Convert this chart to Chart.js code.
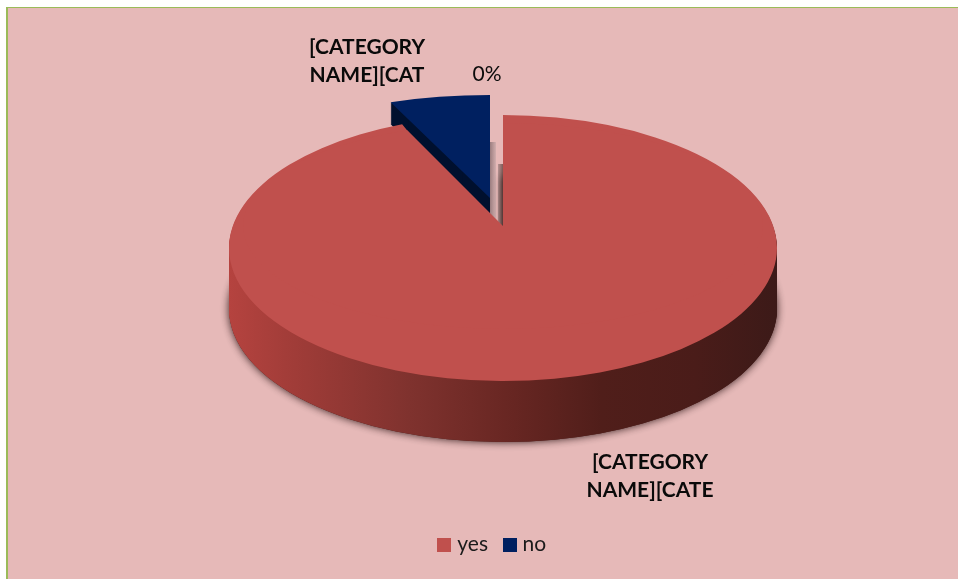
<!DOCTYPE html>
<html>
<head>
<meta charset="utf-8">
<title>yes / no</title>
<script src="https://cdn.jsdelivr.net/npm/chart.js@4/dist/chart.umd.min.js"></script>
<style>
  html, body { margin: 0; height: 100%; background: #fff; overflow: hidden; }
  #panel {
    position: absolute; left: 6px; top: 7px; right: 0; bottom: 0;
    background: #e6b9b8;
    border-left: 2px solid #9bbb59;
    border-top: 1px solid #9bbb59;
  }
  #pie { position: absolute; left: 30px; top: 0; }
</style>
</head>
<body>
<div id="panel"></div>
<canvas id="pie" width="928" height="579"></canvas>
<script>
const categories = ["yes", "no"];
const seriesValues = [94, 6];
const sliceColors = ["#c0504d", "#002060"];
const sideColor = "#00102e";

// canvas sits 30px in from the page so the legend centres under the pie
const canvasLeft = 30;

// ellipses for the projected discs, in page pixels
const yesDisc = { cx: 503, cy: 248, rx: 274, ry: 133 };
// the far half is foreshortened, so the slice tip sits above the ellipse centre
const yesTip = { cx: 503, cy: 226, rx: 260, ry: 103 };
const noDisc = { cx: 490, cy: 198, rx: 270, ry: 103 };
const yesDepth = 61;
const noDepth = 22;

const outsideLabels = [
  { lines: ["[CATEGORY", "NAME][CAT"], x: 367, y: 54, bold: true },
  { lines: ["0%"], x: 487, y: 81, bold: false },
  { lines: ["[CATEGORY", "NAME][CATE"], x: 650, y: 469, bold: true },
];

// run a draw with the arc's circle mapped onto an ellipse given in page pixels
function onDisc(ctx, arc, disc, dy, draw) {
  const r = arc.outerRadius;
  ctx.save();
  ctx.translate(disc.cx - canvasLeft, disc.cy + dy);
  ctx.scale(disc.rx / r, disc.ry / r);
  ctx.translate(-arc.x, -arc.y);
  draw();
  ctx.restore();
}

function paintArc(ctx, arc, fill) {
  const saved = arc.options;
  arc.options = Object.assign({}, saved, { backgroundColor: fill });
  arc.draw(ctx);
  arc.options = saved;
}

function sideGradient(ctx, arc) {
  const r = arc.outerRadius;
  const g = ctx.createLinearGradient(arc.x - r, 0, arc.x + r, 0);
  g.addColorStop(0, "#b5433f");
  g.addColorStop(0.12, "#a03c38");
  g.addColorStop(0.33, "#7f322e");
  g.addColorStop(0.52, "#672622");
  g.addColorStop(0.68, "#501e1a");
  g.addColorStop(0.85, "#4a1c19");
  g.addColorStop(1, "#3c1a18");
  return g;
}

// 14px square legend swatch; a point style lets the gap to the text stay tight
function swatch(color) {
  const c = document.createElement("canvas");
  c.width = 14;
  c.height = 14;
  const g = c.getContext("2d");
  g.fillStyle = color;
  g.fillRect(0, 0, 14, 14);
  return c;
}

const pie3d = {
  id: "pie3d",
  beforeDatasetsDraw(chart) {
    const ctx = chart.ctx;
    const [yesArc, noArc] = chart.getDatasetMeta(0).data;

    // navy slice first, its side wall sticks out behind the big slice
    for (let d = noDepth; d > 0; d--) {
      onDisc(ctx, noArc, noDisc, d, () => paintArc(ctx, noArc, sideColor));
    }
    onDisc(ctx, noArc, noDisc, 0, () => paintArc(ctx, noArc, sliceColors[1]));

    // inner walls showing through the gap between the slices
    const wall = (x, y, w, h, from, to) => {
      const g = ctx.createLinearGradient(x - canvasLeft, 0, x - canvasLeft + w, 0);
      g.addColorStop(0, from);
      g.addColorStop(1, to);
      ctx.fillStyle = g;
      ctx.fillRect(x - canvasLeft, y, w, h);
    };
    wall(490, 142, 6, 84, "#9b7d7f", "#d2aeae");
    wall(498, 164, 5, 62, "#b59392", "#7d5a56");

    // soft shadow under the disc, then the side wall stacked upward
    onDisc(ctx, yesArc, yesDisc, yesDepth, () => {
      ctx.shadowColor = "rgba(30, 10, 10, 0.9)";
      ctx.shadowBlur = 8;
      paintArc(ctx, yesArc, "#4a1c19");
    });
    onDisc(ctx, yesArc, yesDisc, 0, () => {
      const g = sideGradient(ctx, yesArc);
      for (let d = yesDepth; d > 0; d--) {
        ctx.save();
        ctx.translate(0, d * yesArc.outerRadius / yesDisc.ry);
        paintArc(ctx, yesArc, g);
        ctx.restore();
      }
    });

    onDisc(ctx, yesArc, yesDisc, 0, () => paintArc(ctx, yesArc, sliceColors[0]));
    onDisc(ctx, yesArc, yesTip, 0, () => paintArc(ctx, yesArc, sliceColors[0]));
    return false;
  },
  // afterDatasetsDraw is skipped once the dataset draw has been cancelled
  afterDraw(chart) {
    const ctx = chart.ctx;
    ctx.save();
    ctx.fillStyle = "#0a0a0a";
    ctx.textAlign = "center";
    ctx.textBaseline = "alphabetic";
    outsideLabels.forEach((l) => {
      ctx.font = (l.bold ? "bold " : "") + "21px Lato, sans-serif";
      l.lines.forEach((t, i) => ctx.fillText(t, l.x - canvasLeft, l.y + i * 28));
    });
    ctx.restore();
  },
};

new Chart(document.getElementById("pie"), {
  type: "pie",
  data: {
    labels: categories,
    datasets: [{
      data: seriesValues,
      backgroundColor: sliceColors,
      borderWidth: 0,
    }],
  },
  plugins: [pie3d],
  options: {
    responsive: false,
    animation: false,
    events: [],
    plugins: {
      tooltip: { enabled: false },
      legend: {
        position: "bottom",
        labels: {
          boxWidth: 5,
          boxHeight: 14,
          padding: 19,
          usePointStyle: true,
          color: "#1a1a1a",
          font: { family: "Lato, sans-serif", size: 21 },
          generateLabels(chart) {
            return Chart.overrides.pie.plugins.legend.labels.generateLabels(chart)
              .map((item, i) => ({ ...item, pointStyle: swatch(sliceColors[i]) }));
          },
        },
      },
    },
    layout: { padding: { bottom: 14 } },
  },
});
</script>
</body>
</html>
